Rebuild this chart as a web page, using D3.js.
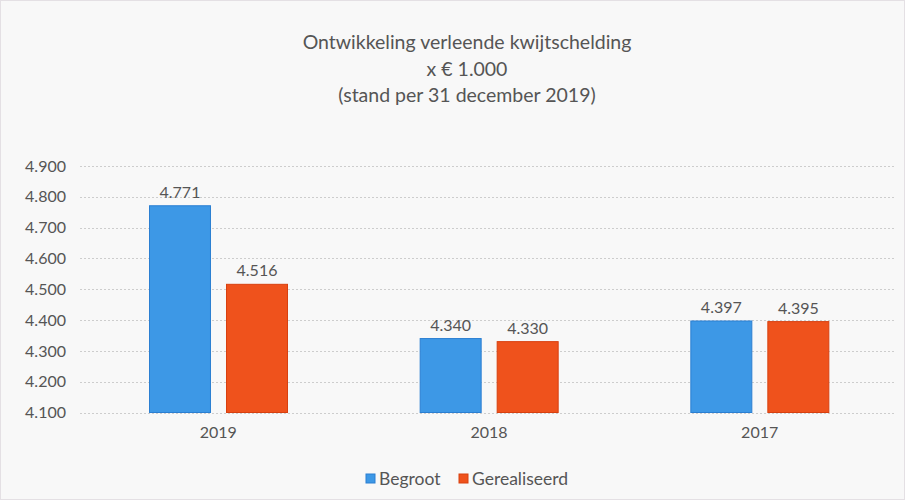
<!DOCTYPE html>
<html><head><meta charset="utf-8">
<script src="https://cdn.jsdelivr.net/npm/d3@7"></script>
<style>
html,body{margin:0;padding:0;background:#f8f8f8;}
svg{display:block;font-family:Lato,"Open Sans",sans-serif;}
</style></head>
<body>
<svg id="c" width="905" height="500"></svg>
<script>
const categories = ["2019", "2018", "2017"];
const seriesNames = ["Begroot", "Gerealiseerd"];
const begroot = [4771, 4340, 4397];
const gerealiseerd = [4516, 4330, 4395];
const yTicks = [4100, 4200, 4300, 4400, 4500, 4600, 4700, 4800, 4900];
const titleLines = ["Ontwikkeling verleende kwijtschelding", "x € 1.000", "(stand per 31 december 2019)"];

const colors = {Begroot: "#3d98e6", Gerealiseerd: "#ef521c"};
const strokes = {Begroot: "#2b7fd2", Gerealiseerd: "#d8400f"};
const svg = d3.select("#c");
const W = 905, H = 500;

svg.append("rect").attr("x", 0.5).attr("y", 0.5).attr("width", W - 1).attr("height", H - 1)
  .attr("fill", "#f8f8f8").attr("stroke", "#e4e0e4");

const x0 = d3.scaleBand().domain(categories).range([83, 895]);
const x1 = d3.scaleBand().domain(seriesNames).range([66, 205]).paddingInner(0.195);
const y = d3.scaleLinear().domain([4100, 4900]).range([412.5, 166]);
const fmt = v => d3.format(",")(v).replace(/,/g, ".");

// title
svg.append("g").selectAll("text").data(titleLines).join("text")
  .attr("x", 467).attr("y", (d, i) => 49 + i * 26.5)
  .attr("text-anchor", "middle").attr("font-size", 19.5).attr("fill", "#555")
  .text(d => d);

// grid
svg.append("g").selectAll("line").data(yTicks).join("line")
  .attr("x1", 80).attr("x2", 894)
  .attr("y1", d => Math.round(y(d)) + 0.5).attr("y2", d => Math.round(y(d)) + 0.5)
  .attr("stroke", "#cdcdcd").attr("stroke-width", 1).attr("stroke-dasharray", "2,2");

// y axis
const yAxis = d3.axisLeft(y).tickValues(yTicks).tickFormat(fmt).tickSize(0).tickPadding(0);
const ga = svg.append("g").attr("transform", "translate(66,0)").call(yAxis);
ga.select(".domain").remove();
ga.selectAll("text").attr("font-size", 16).attr("fill", "#555").attr("font-family", "Lato,'Open Sans',sans-serif");

// x axis
const xAxis = d3.axisBottom(x0).tickSize(0).tickPadding(0);
const gx = svg.append("g").attr("transform", "translate(0,427)").call(xAxis);
gx.select(".domain").remove();
gx.selectAll("text").attr("font-size", 16).attr("fill", "#555").attr("font-family", "Lato,'Open Sans',sans-serif");

// bars
const rows = categories.map((c, i) => ({cat: c, vals: [
  {key: "Begroot", v: begroot[i]}, {key: "Gerealiseerd", v: gerealiseerd[i]}]}));
const g = svg.append("g").selectAll("g").data(rows).join("g")
  .attr("transform", d => `translate(${x0(d.cat)},0)`);
g.selectAll("rect").data(d => d.vals).join("rect")
  .attr("x", d => x1(d.key) + 0.5).attr("width", x1.bandwidth() - 1)
  .attr("y", d => y(d.v)).attr("height", d => y(4100) - y(d.v))
  .attr("fill", d => colors[d.key]).attr("stroke", d => strokes[d.key]).attr("stroke-width", 1);
g.selectAll("text").data(d => d.vals).join("text")
  .attr("x", d => x1(d.key) + x1.bandwidth() / 2).attr("y", d => y(d.v) - 8)
  .attr("text-anchor", "middle").attr("font-size", 16).attr("fill", "#555")
  .text(d => fmt(d.v));

// legend
const leg = svg.append("g");
const legX = [366, 459];
seriesNames.forEach((s, i) => {
  leg.append("rect").attr("x", legX[i]).attr("y", 474).attr("width", 9).attr("height", 9)
    .attr("fill", colors[s]).attr("stroke", strokes[s]);
  leg.append("text").attr("x", legX[i] + 13).attr("y", 485).attr("font-size", 17.5).attr("fill", "#555").text(s);
});
</script>
</body></html>
